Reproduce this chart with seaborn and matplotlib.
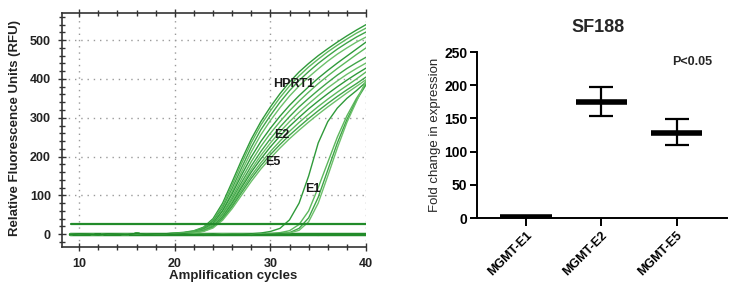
import matplotlib
matplotlib.use("Agg")
import matplotlib.pyplot as plt
import numpy as np
import pandas as pd
import seaborn as sns
from matplotlib.ticker import MultipleLocator

# ---- amplification curves (RFU) ----
BASE_CYCLES = list(range(9, 20))
RISE_CYCLES = list(range(20, 41))
BASELINE = [-1, 1, 0, -2, 1, 0, -1, 2, 0, 1, 1]

HPRT1 = {
    "H1": [3, 5, 9, 18, 40, 80, 135, 192, 245, 290, 328, 362, 392, 418, 440, 460, 478, 495, 511, 526, 540],
    "H2": [2, 4, 8, 16, 36, 74, 127, 183, 236, 281, 318, 352, 382, 408, 431, 451, 470, 487, 503, 518, 531],
    "H3": [2, 4, 7, 15, 33, 68, 118, 172, 224, 269, 306, 340, 370, 396, 419, 440, 459, 477, 493, 508, 521],
    "H4": [2, 3, 6, 13, 29, 62, 110, 162, 212, 256, 293, 326, 356, 382, 405, 426, 446, 464, 480, 495, 508],
}
E2 = {
    "E2a": [2, 3, 6, 13, 28, 60, 104, 153, 199, 239, 273, 304, 332, 357, 380, 402, 422, 441, 459, 477, 495],
    "E2b": [1, 3, 5, 11, 25, 54, 96, 143, 187, 226, 260, 290, 318, 343, 366, 388, 408, 427, 445, 463, 480],
    "E2c": [1, 3, 5, 10, 23, 50, 90, 134, 176, 213, 246, 276, 303, 328, 350, 371, 391, 410, 427, 442, 456],
    "E2d": [1, 2, 5, 10, 22, 47, 85, 127, 167, 203, 235, 264, 290, 314, 336, 357, 377, 395, 412, 427, 441],
}
E5 = {
    "E5a": [1, 2, 4, 9, 20, 44, 80, 121, 160, 194, 225, 253, 278, 301, 323, 343, 362, 380, 397, 413, 428],
    "E5b": [1, 2, 4, 8, 19, 41, 75, 114, 151, 184, 213, 240, 265, 288, 309, 329, 348, 366, 383, 400, 418],
    "E5c": [1, 2, 4, 8, 18, 39, 71, 108, 144, 176, 205, 231, 255, 277, 298, 318, 337, 355, 372, 388, 405],
    "E5d": [1, 2, 3, 7, 16, 36, 66, 101, 136, 168, 196, 222, 246, 268, 289, 309, 328, 346, 364, 381, 398],
}
E1 = {
    "E1a": [0, 1, 0, 1, 0, 1, 0, 1, 1, 3, 7, 15, 37, 80, 150, 235, 290, 325, 350, 370, 392],
    "E1b": [0, 0, 1, 0, 1, 0, 1, 0, 1, 1, 2, 4, 9, 25, 60, 120, 185, 250, 305, 350, 388],
    "E1c": [1, 0, 0, 1, 0, 0, 1, 0, 0, 1, 1, 2, 4, 15, 42, 95, 165, 235, 295, 345, 385],
    "E1d": [0, 1, 0, 0, 1, 0, 0, 1, 0, 0, 1, 1, 3, 10, 32, 80, 150, 222, 288, 342, 395],
}
NTC = {
    "N1": [0, 1, -1, 0, 1, -1, 0, 0, 1, -1, 0, 1, 0, -1, 0, 1, 0, 0, -1, 1, 0],
    "N2": [-2, -1, -2, -3, -1, -2, -2, -1, -3, -2, -1, -2, -2, -1, -2, -3, -2, -1, -2, -2, -1],
}
THRESHOLD = 26

# ---- fold change (SF188) ----
GENES = ["MGMT-E1", "MGMT-E2", "MGMT-E5"]
FOLD_MEAN = [2, 175, 128]
FOLD_LOW = [2, 153, 110]
FOLD_HIGH = [2, 197, 149]

sns.set_theme(style="white")
plt.rcParams["font.family"] = ["Liberation Sans", "DejaVu Sans"]

rows = []
for group in (HPRT1, E2, E5, E1, NTC):
    for well, vals in group.items():
        for c, v in zip(BASE_CYCLES + RISE_CYCLES, BASELINE + vals):
            rows.append({"well": well, "cycle": c, "rfu": v})
curves = pd.DataFrame(rows)

fig = plt.figure(figsize=(7.36, 2.89), dpi=100)
ax = fig.add_axes([62 / 736, 42 / 289, 304 / 736, 234 / 289])

wells = list(curves["well"].unique())
greens = ["#2f9a3a", "#5cb85c", "#3fa447", "#6cc06a"]
palette = {w: greens[i % 4] for i, w in enumerate(wells)}
palette["N1"] = "#228b2a"
palette["N2"] = "#228b2a"
sns.lineplot(data=curves, x="cycle", y="rfu", hue="well", units="well", estimator=None,
             palette=palette, lw=1.0, legend=False, ax=ax)
ax.axhline(THRESHOLD, xmin=(9.1 - 8.2) / 31.8, xmax=1, color="#228b2a", lw=1.6)
ax.plot([9, 40], [0, 0], color="#228b2a", lw=2.5, zorder=1)

ax.set_xlim(8.2, 40)
ax.set_ylim(-33, 570)
ax.xaxis.set_major_locator(MultipleLocator(10))
ax.xaxis.set_minor_locator(MultipleLocator(2))
ax.yaxis.set_major_locator(MultipleLocator(100))
ax.yaxis.set_minor_locator(MultipleLocator(20))
for x in (10, 20, 30, 40):
    ax.axvline(x, color="#9a9a9a", ls=(0, (1, 3.5)), lw=1.0, zorder=0)
for y in (100, 200, 300, 400, 500):
    ax.axhline(y, color="#9a9a9a", ls=(0, (1, 3.5)), lw=1.0, zorder=0)
ax.spines["right"].set_visible(False)
for s in ("left", "bottom", "top"):
    ax.spines[s].set_color("#333333")
    ax.spines[s].set_linewidth(1.2)
ax.tick_params(which="both", direction="inout", top=True, left=True, bottom=True,
               colors="#333333", labelcolor="#222222", labelsize=9, pad=5)
ax.tick_params(which="major", length=6, width=1.0)
ax.tick_params(which="minor", length=4, width=1.0)
for lab in ax.get_xticklabels() + ax.get_yticklabels():
    lab.set_fontweight("bold")
ax.set_xlabel("")
ax.set_ylabel("")
fig.text(233 / 736, 1 - 276 / 289, "Amplification cycles", ha="center", va="center",
         fontsize=9.5, fontweight="bold", color="#222222")
fig.text(15 / 736, 1 - 128 / 289, "Relative Fluorescence Units (RFU)", ha="center",
         va="center", rotation=90, fontsize=9.5, fontweight="bold", color="#222222")

for txt, x, y in (("HPRT1", 32.4, 388), ("E2", 31.2, 255), ("E5", 30.3, 185), ("E1", 34.45, 116)):
    ax.text(x, y, txt, ha="center", va="center", fontsize=9, fontweight="bold", color="#1a1a1a")

# ---- right panel ----
ax2 = fig.add_axes([477 / 736, 71 / 289, 250 / 736, 166 / 289])
pos = np.arange(len(GENES))
ax2.hlines(FOLD_MEAN, pos - 0.34, pos + 0.34, color="black", lw=4, zorder=3)
err = [np.array(FOLD_MEAN) - np.array(FOLD_LOW), np.array(FOLD_HIGH) - np.array(FOLD_MEAN)]
ax2.errorbar(pos[1:], FOLD_MEAN[1:], yerr=[err[0][1:], err[1][1:]], fmt="none",
             ecolor="black", elinewidth=1.6, capsize=8.5, capthick=1.6, zorder=3)
ax2.set_xlim(-0.65, 2.67)
ax2.set_ylim(0, 250)
ax2.set_xticks(pos)
ax2.set_xticklabels(GENES, rotation=45, ha="right", rotation_mode="anchor",
                    fontsize=9, fontweight="bold")
ax2.set_yticks([0, 50, 100, 150, 200, 250])
for lab in ax2.get_yticklabels():
    lab.set_fontweight("bold")
ax2.tick_params(axis="y", direction="out", length=5, width=1.4, labelsize=10, pad=2,
                colors="black", left=True)
ax2.tick_params(axis="x", direction="out", length=6, width=1.4, pad=2, colors="black", bottom=True)
sns.despine(ax=ax2)
for s in ("left", "bottom"):
    ax2.spines[s].set_color("black")
    ax2.spines[s].set_linewidth(1.4)
ax2.set_ylabel("Fold change in expression", fontsize=9.5, labelpad=2)
ax2.text(2.21, 235, "P<0.05", ha="center", va="center", fontsize=9, fontweight="bold")
fig.text(598 / 736, 1 - 27 / 289, "SF188", ha="center", va="center", fontsize=13,
         fontweight="bold")

fig.savefig("out.png", dpi=100)
